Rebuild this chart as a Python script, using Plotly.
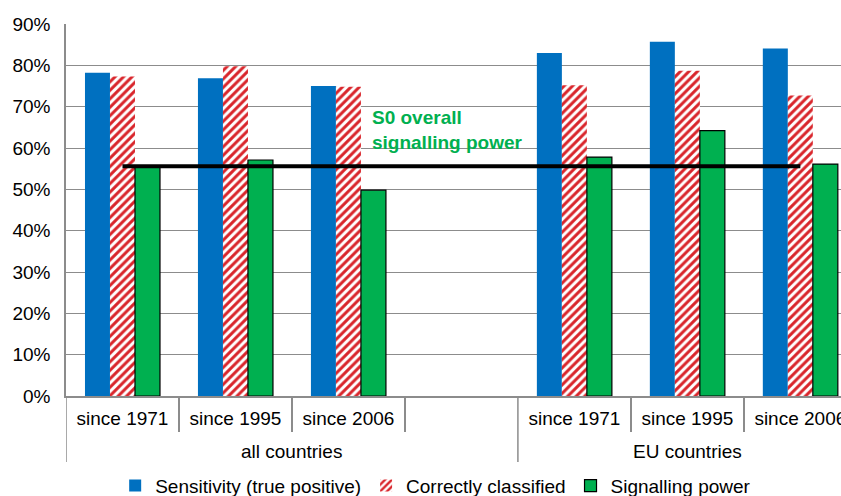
import plotly.graph_objects as go

group_names = ["all countries", "EU countries"]
group_centers = [1.5, 5.0]
group_edges = [-0.5, 3.5, 6.5]
periods = ["since 1971", "since 1995", "since 2006", "", "since 1971", "since 1995", "since 2006"]
slots = list(range(len(periods)))
slot_bounds = [0.5, 1.5, 2.5, 4.5, 5.5]

sensitivity = [78.2, 76.9, 75.0, None, 83.0, 85.7, 84.1]
correctly_classified = [77.3, 79.8, 74.8, None, 75.2, 78.7, 72.7]
signalling_power = [55.5, 57.1, 49.8, None, 57.8, 64.2, 56.1]
s0_overall = [55.6] * 7

y_ticks = [0, 10, 20, 30, 40, 50, 60, 70, 80, 90]
y_tick_labels = [f"{v}%" for v in y_ticks]

FONT = "Liberation Sans, Arial, sans-serif"
FS = 19
GRAY = "#8C8C8C"

fig = go.Figure()
fig.add_trace(go.Bar(
    x=slots, y=sensitivity, name="Sensitivity (true positive)",
    marker=dict(color="#0070C0", line=dict(width=0)),
))
fig.add_trace(go.Bar(
    x=slots, y=correctly_classified, name="Correctly classified",
    marker=dict(color="white", line=dict(width=0),
                pattern=dict(shape="/", fgcolor="#D9252B", bgcolor="white",
                             size=6, solidity=0.5, fillmode="replace")),
))
fig.add_trace(go.Bar(
    x=slots, y=signalling_power, name="Signalling power",
    marker=dict(color="#00B050", line=dict(width=1.2, color="black")),
))
fig.add_trace(go.Scatter(
    x=slots, y=s0_overall, mode="lines", showlegend=False,
    line=dict(color="black", width=4),
))

# annotation
fig.add_annotation(
    x=(370 - 66) / 775, xref="paper", y=70.3, yref="y",
    xanchor="left", yanchor="top", align="left", showarrow=False,
    text="<b>S0 overall<br>signalling power</b>",
    font=dict(family=FONT, size=FS, color="#00B050"),
)

# group labels below the axis
for name, cx in zip(group_names, group_centers):
    fig.add_annotation(
        x=cx, xref="x", y=-55 / 372, yref="paper",
        xanchor="center", yanchor="middle", showarrow=False,
        text=name, font=dict(family=FONT, size=FS, color="black"),
    )

# group dividers
for gx in group_edges:
    fig.add_shape(type="line", xref="x", yref="paper",
                  x0=gx, x1=gx, y0=0, y1=-66 / 372,
                  line=dict(color=GRAY, width=1.5))

fig.update_layout(
    width=841, height=496,
    margin=dict(l=66, r=0, t=24, b=100, autoexpand=False),
    paper_bgcolor="white", plot_bgcolor="white",
    barmode="group", bargap=0.336, bargroupgap=0,
    font=dict(family=FONT, size=FS, color="black"),
    legend=dict(orientation="h", x=0.477, xanchor="center",
                yref="paper", y=-0.19, yanchor="top",
                font=dict(family=FONT, size=FS, color="black"),
                itemwidth=30, traceorder="normal"),
    xaxis=dict(
        range=[-0.5, 6.36], automargin=False,
        tickvals=slots, ticktext=periods, ticks="",
        ticklabelstandoff=4, ticklabeloverflow="allow",
        minor=dict(tickvals=slot_bounds, ticks="outside", ticklen=34,
                   tickcolor=GRAY, tickwidth=1.5),
        showline=True, linecolor=GRAY, linewidth=1.5,
        tickfont=dict(family=FONT, size=FS, color="black"),
        showgrid=False, zeroline=False,
    ),
    yaxis=dict(
        range=[0, 90], tickvals=y_ticks, ticktext=y_tick_labels,
        automargin=False,
        showgrid=True, gridcolor=GRAY, gridwidth=1.3,
        showline=True, linecolor=GRAY, linewidth=1.5,
        ticks="", ticklabelstandoff=10, zeroline=False,
        tickfont=dict(family=FONT, size=FS, color="black"),
    ),
)

fig.write_html("out.html")
